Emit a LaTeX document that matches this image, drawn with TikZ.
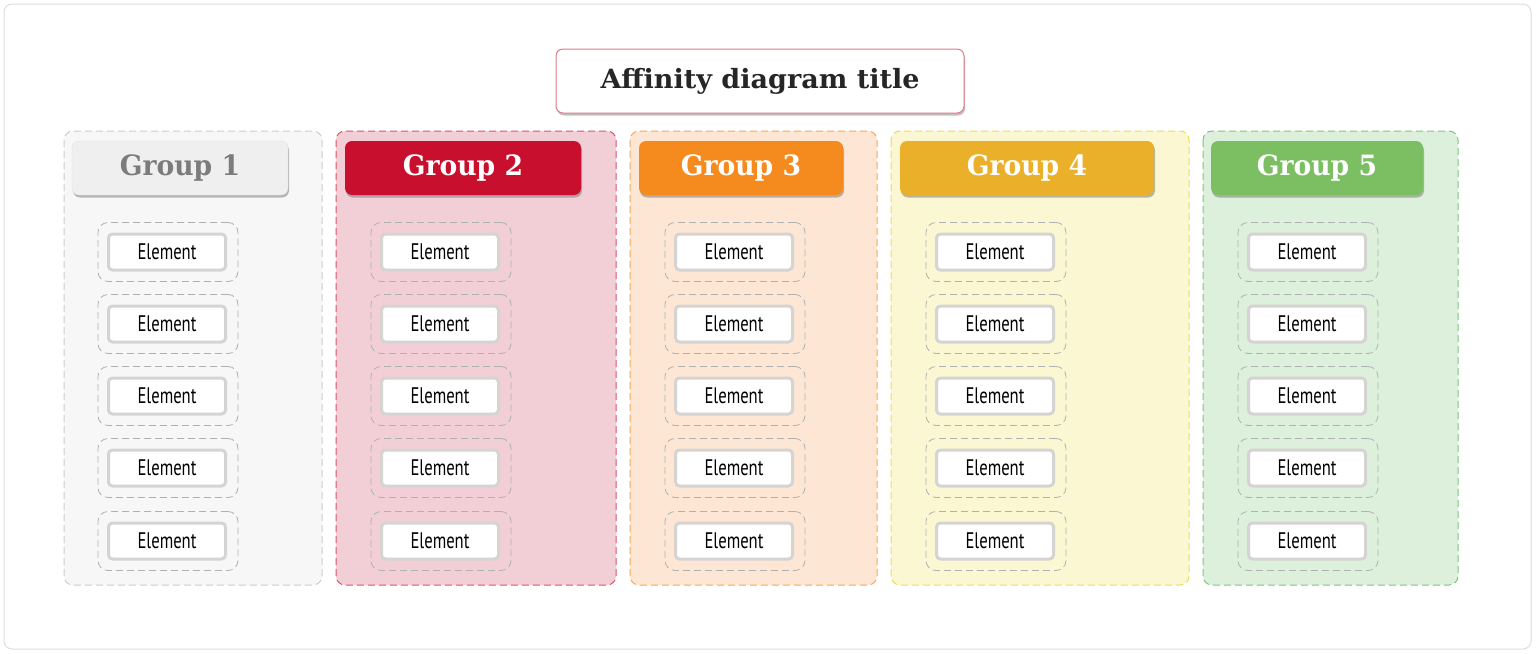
\documentclass[tikz,border=0pt]{standalone}
\usepackage{fontspec}
\usetikzlibrary{shadows}
\newfontfamily\elfont[FakeStretch=0.74]{PT Sans}
\newfontfamily\ttlfont[FakeStretch=1.02]{DejaVu Serif}
\newfontfamily\grpfont[FakeStretch=0.95]{DejaVu Serif}
\definecolor{framec}{HTML}{DDDDDD}
\definecolor{titleb}{HTML}{E07A8C}
\definecolor{gAfill}{HTML}{F7F7F7}\definecolor{gAline}{HTML}{CCCCCC}
\definecolor{gBfill}{HTML}{F2CFD6}\definecolor{gBline}{HTML}{D9546E}
\definecolor{gCfill}{HTML}{FDE7D4}\definecolor{gCline}{HTML}{F5A860}
\definecolor{gDfill}{HTML}{FAF7D2}\definecolor{gDline}{HTML}{EDDC5C}
\definecolor{gEfill}{HTML}{DDF0DC}\definecolor{gEline}{HTML}{80C480}
\definecolor{hA}{HTML}{EFEFEF}\definecolor{hAt}{HTML}{7C7C7C}
\definecolor{hB}{HTML}{C8102E}
\definecolor{hC}{HTML}{F58B1F}
\definecolor{hD}{HTML}{EBB02A}
\definecolor{hE}{HTML}{7BBF62}
\definecolor{elline}{HTML}{D6D3D3}
\definecolor{outdash}{HTML}{AEB2B2}
\tikzset{
  colbox/.style={rounded corners=9pt, dash pattern=on 7pt off 4pt, line width=1pt},
  headbox/.style={rounded corners=7pt, drop shadow={shadow xshift=1pt, shadow yshift=-2.5pt, opacity=0.45, fill=black!60}},
  eloutbox/.style={rounded corners=10pt, draw=outdash, dash pattern=on 7pt off 4pt, line width=0.8pt},
  elinbox/.style={rounded corners=4pt, draw=elline, fill=white, line width=3pt, font=\elfont\fontsize{22.5}{24}\selectfont, text=black},
  headtxt/.style={font=\grpfont\bfseries\fontsize{28}{30}\selectfont}
}
\begin{document}
\begin{tikzpicture}[x=1pt,y=-1pt]
\useasboundingbox (0,0) rectangle (1536,653);
\fill[white] (0,0) rectangle (1536,653);
\draw[framec, line width=1pt, rounded corners=8pt, fill=white] (4,4) rectangle (1531,649);
% title
\node[draw=titleb, line width=1pt, fill=white, rounded corners=7pt, minimum width=408pt, minimum height=64pt,
  drop shadow={shadow xshift=1pt, shadow yshift=-2.5pt, opacity=0.4, fill=black!60},
  font=\ttlfont\bfseries\fontsize{26.5}{28}\selectfont, text=black!85] (title) at (760,81) {Affinity diagram title};
% columns
\draw[colbox, draw=gAline, fill=gAfill] (64,131) rectangle (322,585);
\draw[colbox, draw=gBline, fill=gBfill] (336,131) rectangle (616,585);
\draw[colbox, draw=gCline, fill=gCfill] (630,131) rectangle (877,585);
\draw[colbox, draw=gDline, fill=gDfill] (891,131) rectangle (1189,585);
\draw[colbox, draw=gEline, fill=gEfill] (1203,131) rectangle (1458,585);
% headers
\node[headbox, fill=hA, draw=black!12, minimum width=216pt, minimum height=54pt, headtxt, text=hAt] (hg1) at (180,168) {Group 1};
\node[headbox, fill=hB, minimum width=236pt, minimum height=54pt, headtxt, text=white] (hg2) at (463,168) {Group 2};
\node[headbox, fill=hC, minimum width=204pt, minimum height=54pt, headtxt, text=white] (hg3) at (741,168) {Group 3};
\node[headbox, fill=hD, minimum width=254pt, minimum height=54pt, headtxt, text=white] (hg4) at (1027,168) {Group 4};
\node[headbox, fill=hE, minimum width=212pt, minimum height=54pt, headtxt, text=white] (hg5) at (1317,168) {Group 5};
% elements
\foreach \cx/\g in {168/a,441/b,735/c,996/d,1308/e}{
  \foreach \cy/\r in {252/1,324/2,396/3,468/4,541/5}{
    \node[eloutbox, minimum width=140pt, minimum height=59pt] (o\g\r) at (\cx,\cy) {};
    \node[elinbox, minimum width=117pt, minimum height=36pt, inner sep=0pt] (e\g\r) at (\cx-1,\cy) {Element};
  }
}
\end{tikzpicture}
\end{document}
